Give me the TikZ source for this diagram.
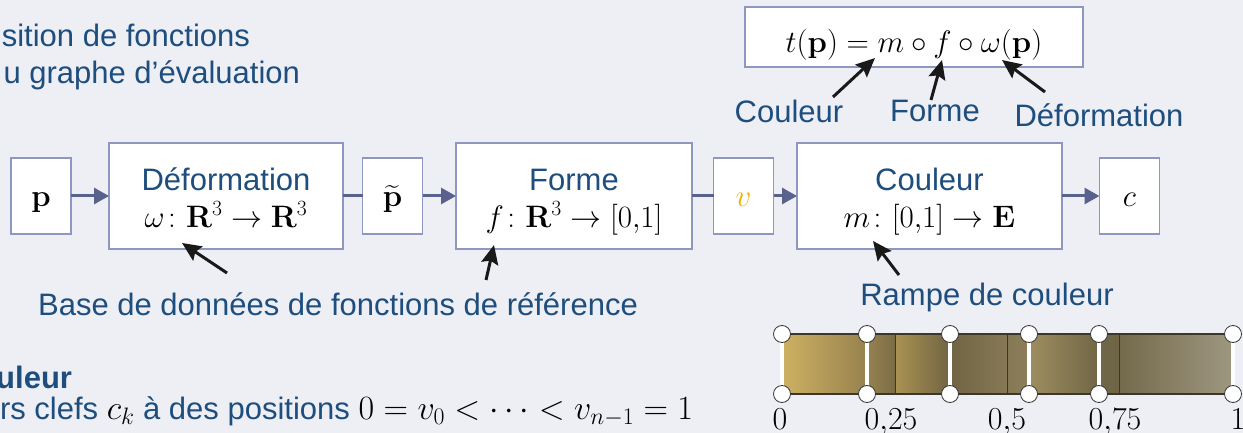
\RequirePackage{fix-cm}
\documentclass[tikz,border=0pt]{standalone}
\usepackage{amsmath}
\usepackage[no-math]{fontspec}
\setmainfont{Liberation Sans}
\usetikzlibrary{arrows.meta}
\definecolor{bg}{RGB}{238,238,245}
\definecolor{bluetxt}{RGB}{30,78,125}
\definecolor{boxline}{RGB}{142,151,192}
\definecolor{connc}{RGB}{88,98,140}
\definecolor{vorange}{RGB}{240,178,0}
\definecolor{ptrc}{RGB}{25,25,25}
\definecolor{rampline}{RGB}{60,55,45}
\definecolor{keyline}{RGB}{55,55,55}
\newcommand{\topstrut}{\rule{0pt}{34pt}}
\newcommand{\botstrut}{\rule[-9pt]{0pt}{9pt}}
\begin{document}
\begin{tikzpicture}[x=1pt,y=-1pt,
  every node/.style={inner sep=0pt, outer sep=0pt},
  fnbox/.style={draw=boxline, line width=1.5pt, fill=white, align=center,
    font=\fontsize{31}{38}\selectfont},
  smallbox/.style={fnbox, minimum width=60pt, minimum height=76pt, text height=26pt, text depth=4pt},
  bigbox/.style={fnbox, minimum height=106pt, font=\fontsize{31}{37}\selectfont},
  conn/.style={draw=connc, line width=3pt},
  connarrow/.style={conn, -{Triangle[length=15pt,width=16pt]}},
  ptr/.style={draw=ptrc, line width=3pt, -{Stealth[length=19pt,width=17pt,inset=3pt]}},
  lbl/.style={text=bluetxt, font=\fontsize{31}{38}\selectfont},
  ramplbl/.style={font=\fontsize{32}{38}\selectfont, anchor=base},
]
\useasboundingbox (0,0) rectangle (1243,433);
\fill[bg] (0,0) rectangle (1243,433);

% title (cut at left)
\node[lbl, anchor=base east] (title1) at (250,47) {sition de fonctions};
\node[lbl, anchor=base east] (title2) at (300,84) {u graphe d’évaluation};

% formula box
\node[fnbox, minimum width=338pt, minimum height=60pt, text height=36pt, text depth=4pt,
  font=\fontsize{31}{38}\selectfont] (formula) at (914,37)
  {$t(\mathbf{p}) = m\circ f\circ\omega(\mathbf{p})$};
\node[lbl, anchor=base] (lblC) at (789,123) {Couleur};
\node[lbl, anchor=base] (lblF) at (935,122) {Forme};
\node[lbl, anchor=base] (lblD) at (1099,127) {Déformation};
\coordinate (tailC) at (833,97);  \coordinate (tipC) at (875,58);
\coordinate (tailF) at (931,100); \coordinate (tipF) at (942,60);
\coordinate (tailD) at (1045,92); \coordinate (tipD) at (1002,60);
\draw[ptr] (tailC) -- (tipC);
\draw[ptr] (tailF) -- (tipF);
\draw[ptr] (tailD) -- (tipD);

% pipeline
\node[smallbox] (p) at (41,196) {$\mathbf{p}$};
\node[bigbox, minimum width=234pt] (def) at (226,196)
  {\topstrut{\color{bluetxt}Déformation}\\$\omega\colon\mathbf{R}^3\to\mathbf{R}^3$\botstrut};
\node[smallbox] (pt) at (392.5,196) {$\widetilde{\mathbf{p}}$};
\node[bigbox, minimum width=236pt] (forme) at (574,196)
  {\topstrut{\color{bluetxt}Forme}\\$f\colon\mathbf{R}^3\to[0{,}1]$\botstrut};
\node[smallbox] (v) at (743.5,196) {$\color{vorange}v$};
\node[bigbox, minimum width=265pt] (coul) at (929.5,196)
  {\topstrut{\color{bluetxt}Couleur}\\$m\colon[0{,}1]\to\mathbf{E}$\botstrut};
\node[smallbox] (c) at (1129.5,196) {$c$};

\draw[connarrow] (p) -- (def);
\draw[conn] (def) -- (pt);
\draw[connarrow] (pt) -- (forme);
\draw[conn] (forme) -- (v);
\draw[connarrow] (v) -- (coul);
\draw[connarrow] (coul) -- (c);

% reference database
\node[lbl, anchor=base] (base) at (338,315) {Base de données de fonctions de référence};
\coordinate (tailB1) at (227,273); \coordinate (tipB1) at (182,243);
\coordinate (tailB2) at (486,280); \coordinate (tipB2) at (494,245);
\draw[ptr] (tailB1) -- (tipB1);
\draw[ptr] (tailB2) -- (tipB2);

% color ramp
\node[lbl, anchor=base] (rampe) at (987,305) {Rampe de couleur};
\coordinate (tailR) at (899,275); \coordinate (tipR) at (873,241);
\draw[ptr] (tailR) -- (tipR);

\definecolor{ra}{RGB}{205,176,98}\definecolor{rb}{RGB}{150,130,78}
\definecolor{rc}{RGB}{150,130,80}\definecolor{rd}{RGB}{122,108,70}
\definecolor{re}{RGB}{170,146,82}\definecolor{rf}{RGB}{112,100,67}
\definecolor{rg}{RGB}{112,100,68}\definecolor{rh}{RGB}{135,121,86}
\definecolor{ri}{RGB}{133,120,84}\definecolor{rj}{RGB}{140,127,90}
\definecolor{rk}{RGB}{158,142,96}\definecolor{rl}{RGB}{112,102,70}
\definecolor{rm}{RGB}{113,103,72}\definecolor{rn}{RGB}{110,100,70}
\definecolor{ro}{RGB}{116,106,76}\definecolor{rp}{RGB}{158,151,128}
\shade[left color=ra, right color=rb] (783,334) rectangle (867,394);
\shade[left color=rc, right color=rd] (867,334) rectangle (895.25,394);
\shade[left color=re, middle color=rf, right color=rf] (895.25,334) rectangle (950,394);
\shade[left color=rg, right color=rh] (950,334) rectangle (1007.5,394);
\shade[left color=ri, right color=rj] (1007.5,334) rectangle (1029,394);
\shade[left color=rk, right color=rl] (1029,334) rectangle (1099,394);
\shade[left color=rm, right color=rn] (1099,334) rectangle (1119.75,394);
\shade[left color=ro, right color=rp] (1119.75,334) rectangle (1232,394);
\draw[rampline, line width=1.5pt] (783,334) rectangle (1232,394);
\foreach \q in {895.25,1007.5,1119.75}
  \draw[rampline, line width=1.2pt] (\q,334) -- (\q,394);
\foreach \k in {782,867,950,1029,1099,1233}{
  \draw[white, line width=4pt] (\k,334) -- (\k,394);
  \filldraw[fill=white, draw=keyline, line width=0.8pt] (\k,334) circle (8.5pt);
  \filldraw[fill=white, draw=keyline, line width=0.8pt] (\k,394) circle (8.5pt);
}
\node[ramplbl] (r0) at (780,429) {$0$};
\node[ramplbl] (r1) at (891,429) {$0{,}25$};
\node[ramplbl] (r2) at (1007,429) {$0{,}5$};
\node[ramplbl] (r3) at (1115,429) {$0{,}75$};
\node[ramplbl] (r4) at (1238,429) {$1$};

% bottom left text (cut at left)
\node[lbl, anchor=base east, font=\fontsize{31}{38}\selectfont\bfseries] (head) at (72,388) {uleur};
\node[lbl, anchor=base west] (desc) at (0,419)
  {rs clefs {\fontsize{34}{38}\selectfont\textcolor{black}{$c_k$}} à des positions {\fontsize{34}{38}\selectfont\textcolor{black}{$0 = v_0 < \cdots < v_{n-1} = 1$}}};
\end{tikzpicture}
\end{document}
